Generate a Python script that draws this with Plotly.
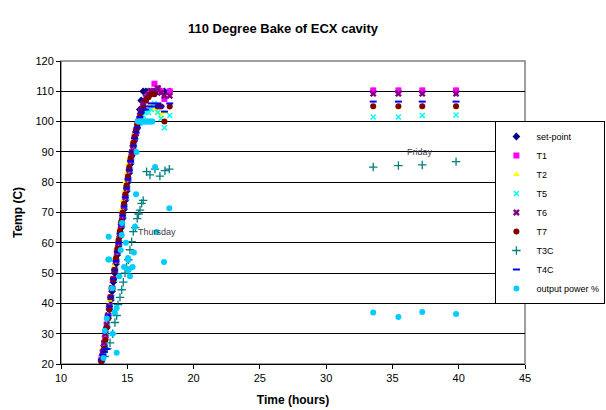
import plotly.graph_objects as go

# ---------------- data ----------------
t_thu = [13.05, 13.15, 13.25, 13.35, 13.45, 13.55, 13.65, 13.75, 13.85, 13.95,
         14.05, 14.15, 14.25, 14.35, 14.45, 14.55, 14.65, 14.75, 14.85, 14.95,
         15.05, 15.15, 15.25, 15.35, 15.45, 15.55, 15.65, 15.75, 15.85, 15.95,
         16.05, 16.2, 16.4, 16.6, 16.8, 17.05, 17.3, 17.55, 17.8, 18.2]
t_fri = [33.55, 35.45, 37.25, 39.8]

setpoint_thu = [21, 23, 26, 29, 32, 35, 38, 41, 44, 47, 50, 53, 56, 59, 62, 65, 68, 71, 74, 77,
                80, 83, 86, 89, 92, 94, 96, 98, 100, 104, 107, 110, 110, 110, 110, 110, 110, 110, 110, 110]
setpoint_fri = [110, 110, 110, 110]

t1_thu = [22, 24, 27, 29, 33, 36, 39, 42, 45, 48, 51, 54, 57, 60, 63, 66, 69, 72, 75, 78,
          81, 84, 87, 90, 92, 95, 97, 99, 100, 101, 103, 105, 107, 109, 110, 112.5, 111, 110, 107.5, 110]
t1_fri = [110.3, 110.3, 110.3, 110.3]

t2_thu = [23, 25, 28, 31, 35, 39, 41, 45, 48, 52, 55, 58, 61, 64, 67, 71, 74, 77, 80, 83,
          86, 88, 90, 92, 94, 96, 97.5, 99, 100, 101, 102, 103, 104, 105, 105, 104, 103, 102, 103, 105]
t2_fri = [104.7, 104.7, 104.7, 104.7]

t5_thu = [21, 22, 24, 27, 30, 33, 36, 39, 42, 45, 48, 51, 54, 57, 60, 63, 66, 69, 72, 75,
          78, 81, 84, 87, 90, 92, 95, 97, 98.5, 99.5, 100.5, 102, 103, 103, 104, 106, 103, 101, 98, 102]
t5_fri = [101.5, 101.5, 102, 102.2]

t6_thu = [21, 24, 27, 30, 33, 36, 39, 42, 45, 48, 51, 54, 57, 60, 63, 66, 69, 72, 75, 78,
          81, 84, 87, 89, 92, 94, 96, 98, 100, 102, 104, 106, 108, 109, 110, 110, 111, 109.5, 108.5, 108.5]
t6_fri = [109.2, 109.2, 109.2, 109.2]

t7_thu = [21, 22.5, 25, 28, 32, 35, 38, 42, 45, 48, 51, 55, 58, 61, 64, 67, 70, 73, 76, 79,
          82, 85, 88, 90, 93, 95, 97, 99, 100, 101.5, 103, 104.5, 107, 108, 109, 109, 105, 105, 100, 105]
t7_fri = [105.1, 105.1, 105.1, 105.1]

t3c_x = [13.3, 13.5, 13.7, 13.9, 14.07, 14.2, 14.3, 14.45, 14.58, 14.7, 14.83, 14.95, 15.08, 15.2,
         15.33, 15.45, 15.6, 15.75, 15.85, 15.96, 16.08, 16.2, 16.46, 16.71, 17.09, 17.46, 17.84, 18.17,
         33.55, 35.45, 37.25, 39.8]
t3c_y = [22.5, 25, 27, 30, 33.7, 36, 39.6, 42, 44.5, 47, 50, 52, 54.4, 57.7,
         60.4, 63.7, 65, 68, 69.5, 70.8, 73, 74, 83.5, 82.4, 84.3, 82, 83.8, 84.3,
         85, 85.5, 85.7, 86.8]

t4c_thu = [21.5, 23, 24, 25, 25, 36, 39, 42, 45, 48, 51, 54, 57, 60, 63, 66, 69, 72, 75, 78,
           81, 84, 87, 90, 92, 94.5, 96.5, 98, 100, 101.5, 103, 104, 104, 105, 106, 105, 106, 105, 103.3, 106]
t4c_fri = [106.6, 106.6, 106.6, 106.6]

power_x = [13.2, 13.3, 13.45, 13.57, 13.6, 13.65, 13.85, 13.9, 14.05, 14.2, 14.2, 14.4, 14.5, 14.58,
           14.6, 14.75, 14.9, 15.05, 15.08, 15.1, 15.2, 15.4, 15.5, 15.58, 15.66, 15.7, 15.8, 15.9,
           16.0, 16.1, 16.2, 16.3, 16.4, 16.5, 16.6, 16.7, 16.8, 16.9, 17.1, 17.2, 17.77, 18.17,
           33.55, 35.45, 37.25, 39.8]
power_y = [22, 31, 35, 54.5, 62, 54.5, 45, 30, 37, 38.5, 23.7, 49, 57.6, 62.6,
           66.5, 52, 60, 55, 54.3, 51, 49, 52, 56.8, 65.3, 76, 90, 100, 100,
           100, 100, 100, 100, 100, 100, 100, 100, 100, 100, 85, 63.6, 53.7, 71.4,
           37, 35.5, 37.2, 36.5]

# ---------------- figure ----------------
fig = go.Figure()

def add(name, x, y, symbol, color, size=6, line_w=0, line_col=None):
    m = dict(symbol=symbol, color=color, size=size)
    if line_w:
        m["line"] = dict(width=line_w, color=line_col or color)
    fig.add_trace(go.Scatter(x=x, y=y, mode="markers", name=name, marker=m))

add("set-point", t_thu + t_fri, setpoint_thu + setpoint_fri, "diamond", "#000080", 6)
add("T1", t_thu + t_fri, t1_thu + t1_fri, "square", "#FF00FF", 6)
add("T2", t_thu + t_fri, t2_thu + t2_fri, "triangle-up", "#FFFF00", 6)
add("T5", t_thu + t_fri, t5_thu + t5_fri, "x-thin", "#00FFFF", 5, 1.5)
add("T6", t_thu + t_fri, t6_thu + t6_fri, "x", "#800080", 6)
add("T7", t_thu + t_fri, t7_thu + t7_fri, "circle", "#800000", 6)
add("T3C", t3c_x, t3c_y, "cross-thin", "#008080", 6, 1.3)
add("T4C", t_thu + t_fri, t4c_thu + t4c_fri, "line-ew", "#0000FF", 5, 2)
add("output power %", power_x, power_y, "circle", "#00CCFF", 6)

fig.add_shape(type="rect", xref="paper", yref="paper", x0=0, y0=0, x1=1, y1=1,
              line=dict(color="#808080", width=1.5), layer="below")

fig.add_annotation(x=17.24, y=63.6, text="Thursday", showarrow=False,
                   font=dict(family="Arial, Liberation Sans", size=9, color="#404040"))
fig.add_annotation(x=37.07, y=90, text="Friday", showarrow=False,
                   font=dict(family="Arial, Liberation Sans", size=9, color="#404040"))

fig.update_layout(
    width=606, height=410,
    margin=dict(l=61, r=81, t=61, b=46, autoexpand=False),
    paper_bgcolor="white", plot_bgcolor="white",
    font=dict(family="Arial, Liberation Sans", size=11, color="black"),
    title=dict(text="<b>110 Degree Bake of ECX cavity</b>", x=0.467, xanchor="center",
               y=0.93, yanchor="middle", font=dict(size=13)),
    showlegend=True,
    legend=dict(xref="container", x=0.999, xanchor="right", y=0.5, yanchor="middle",
                bordercolor="black", borderwidth=1, bgcolor="white",
                font=dict(size=9), itemwidth=30, tracegroupgap=0),
    xaxis=dict(range=[10, 45], tickmode="linear", tick0=10, dtick=5,
               showline=True, linecolor="black", linewidth=1,
               ticks="outside", ticklen=4, tickcolor="black",
               showgrid=False, zeroline=False,
               title=dict(text="<b>Time (hours)</b>", font=dict(size=12), standoff=12)),
    yaxis=dict(range=[20, 120], tickmode="linear", tick0=20, dtick=10,
               showline=True, linecolor="black", linewidth=1,
               ticks="outside", ticklen=4, tickcolor="black",
               showgrid=True, gridcolor="#000000", gridwidth=1, zeroline=False,
               title=dict(text="<b>Temp (C)</b>", font=dict(size=12), standoff=10)),
)

fig.write_html("out.html")
